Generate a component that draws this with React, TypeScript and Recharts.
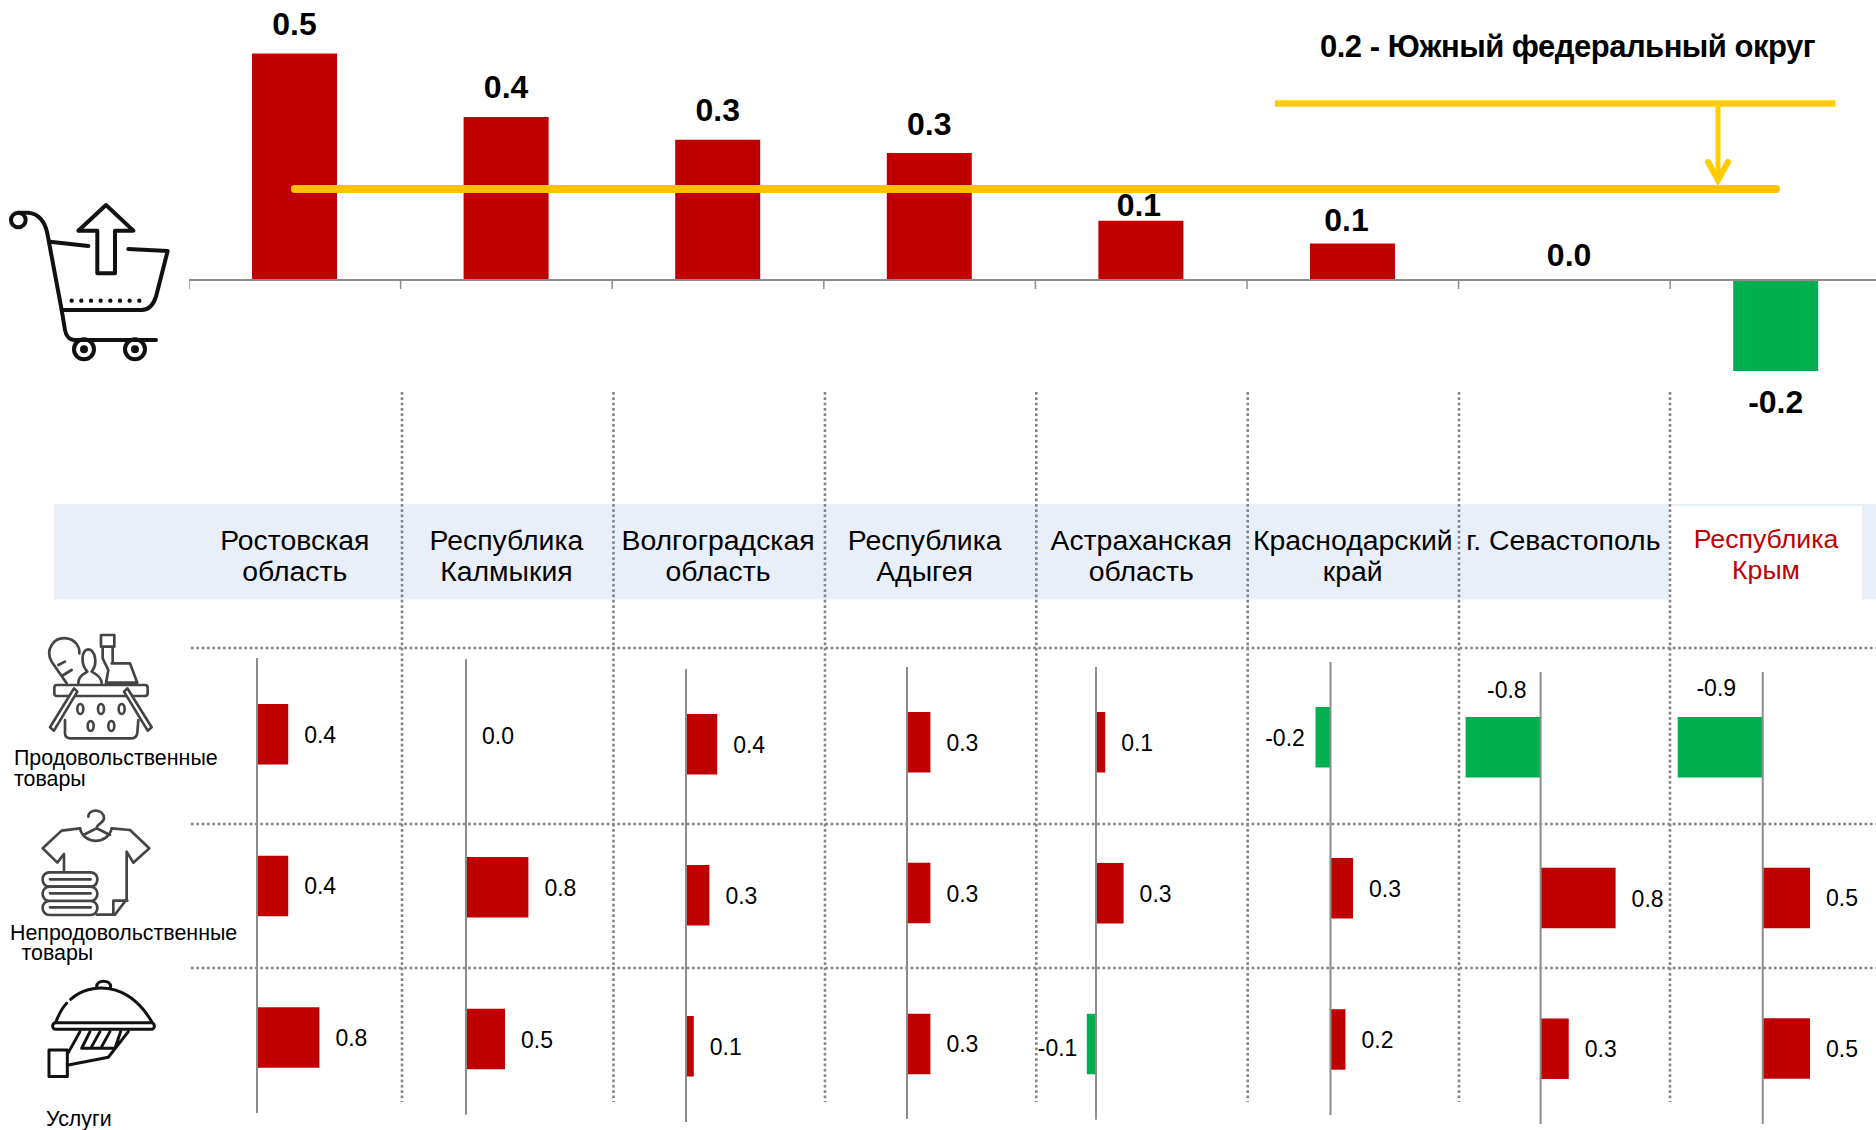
import React from "react";
import {
  BarChart, Bar, ComposedChart, Line, XAxis, YAxis, Cell,
  LabelList, ReferenceLine,
} from "recharts";

const FONT = '"Liberation Sans", Arial, sans-serif';
const RED = "#C00000";
const GREEN = "#00B050";
const AXIS_GRAY = "#8C8C8C";
const DOT_GRAY = "#858585";

// data
const regions = [
  "Ростовская область", "Республика Калмыкия", "Волгоградская область", "Республика Адыгея",
  "Астраханская область", "Краснодарский край", "г. Севастополь", "Республика Крым",
];
// the 0.0 entries are tiny, not zero: recharts drops labels of empty bars
const totalValues = [0.498, 0.358, 0.308, 0.279, 0.13, 0.08, 0.001, -0.2];
const districtAverage = 0.2;
const districtLabel = "0.2 - Южный федеральный округ";
const rowNames = ["Продовольственные товары", "Непродовольственные товары", "Услуги"];
const foodValues = [0.4, 0.001, 0.4, 0.3, 0.1, -0.2, -0.8, -0.9];
const nonFoodValues = [0.4, 0.8, 0.3, 0.3, 0.3, 0.3, 0.8, 0.5];
const serviceValues = [0.8, 0.5, 0.1, 0.3, -0.1, 0.2, 0.3, 0.5];

// layout of the top chart
const TOP_PX_PER_UNIT = 455;
const TOP_MIN = -0.35;
const TOP_MAX = 0.6;
const TOP_LEFT = 189;
const TOP_BAND = 211.6;
const TOP_ZERO_Y = 280;
const topLabelGap = [18.5, 19.3, 19.3, 18, 5, 12.3, 13.3, 42];
const topLabelDx = [0, 0, 0, 0, -2, -6, 5, 0];

// layout of the small charts, one per region
const colAxisX = [257, 466, 686.3, 907.3, 1096, 1330, 1540.7, 1762.3];
const colTop = [658, 659.3, 669.3, 666.7, 667.3, 661.7, 671.7, 672.3];
const colBottom = [1113, 1115, 1122.3, 1119.3, 1120, 1115, 1124, 1124.3];
const colPxPerUnit = [78, 78, 78, 78, 92, 75, 93.75, 94.5];
const labelNudge: Record<string, { dx: number; dy: number }> = {
  "4-2": { dx: 0.6, dy: 3 },
  "5-0": { dx: -0.7, dy: 0 },
  "6-0": { dx: 71, dy: -57.6 },
  "7-0": { dx: 68.4, dy: -59.6 },
};
const headerDx = [0, 0, 0, -5, 0, 0, -1, -10];

const gridX = [402, 613.5, 825, 1036.3, 1247.7, 1459, 1670];
const gridY = [648, 824, 968];

const topData = regions.map((name, i) => ({ name, value: totalValues[i], avg: districtAverage }));

const BoundaryTick = ({ x, y }: { x?: number; y?: number }) => {
  const left = (x ?? 0) - TOP_BAND / 2;
  const zero = (y ?? 0) + TOP_MIN * TOP_PX_PER_UNIT;
  return <line x1={left} x2={left} y1={zero} y2={zero + 9} stroke={AXIS_GRAY} strokeWidth={1.5} />;
};

const TopLabel = (props: any) => {
  const { x, y, width, height, value, index } = props;
  const top = Math.min(y, y + height);
  const bottom = Math.max(y, y + height);
  const baseline = value < 0 ? bottom + topLabelGap[index] : top - topLabelGap[index];
  return (
    <text x={x + width / 2 + topLabelDx[index]} y={baseline} textAnchor="middle"
      fontFamily={FONT} fontWeight="bold" fontSize={32} fill="#000">
      {value.toFixed(1)}
    </text>
  );
};

function TopChart() {
  const plotHeight = (TOP_MAX - TOP_MIN) * TOP_PX_PER_UNIT;
  return (
    <div style={{ position: "absolute", left: TOP_LEFT, top: TOP_ZERO_Y - TOP_MAX * TOP_PX_PER_UNIT }}>
      {/* axis needs a height above 0 or its ticks are skipped */}
      <ComposedChart width={TOP_BAND * 8} height={plotHeight + 1} data={topData}
        margin={{ top: 0, right: 0, bottom: 0, left: 0 }}>
        <XAxis dataKey="name" height={1} axisLine={false} tickLine={false} tickSize={0} tickMargin={0}
          interval={0} tick={<BoundaryTick />} />
        <YAxis hide domain={[TOP_MIN, TOP_MAX]} />
        <Bar dataKey="value" barSize={85} isAnimationActive={false}>
          {topData.map((d) => <Cell key={d.name} fill={d.value < 0 ? GREEN : RED} />)}
          <LabelList dataKey="value" content={TopLabel} />
        </Bar>
        <ReferenceLine y={0} stroke={AXIS_GRAY} strokeWidth={2} />
        <Line dataKey="avg" stroke="#FFC000" strokeWidth={8} strokeLinecap="round"
          dot={false} activeDot={false} isAnimationActive={false} />
      </ComposedChart>
    </div>
  );
}

function RegionChart({ col }: { col: number }) {
  const data = [foodValues, nonFoodValues, serviceValues].map((vals, r) => ({
    row: rowNames[r], value: vals[col],
  }));
  const w = colPxPerUnit[col] * 3;

  const renderLabel = (props: any) => {
    const { x, y, width, height, value, index } = props;
    const nudge = labelNudge[`${col}-${index}`] ?? { dx: 0, dy: 0 };
    const left = Math.min(x, x + width);
    const right = Math.max(x, x + width);
    const neg = value < 0;
    return (
      <text x={(neg ? left - 10 : right + 16) + nudge.dx} y={y + height / 2 + 0.5 + nudge.dy}
        textAnchor={neg ? "end" : "start"} dominantBaseline="central"
        fontFamily={FONT} fontSize={23} fill="#000">
        {value.toFixed(1)}
      </text>
    );
  };

  return (
    <div style={{ position: "absolute", left: colAxisX[col] - w / 2, top: colTop[col] }}>
      <BarChart layout="vertical" width={w} height={colBottom[col] - colTop[col]} data={data}
        margin={{ top: 0, right: 0, bottom: 0, left: 0 }}>
        <XAxis type="number" hide domain={[-1.5, 1.5]} />
        <YAxis type="category" dataKey="row" hide />
        <Bar dataKey="value" barSize={60.5} isAnimationActive={false}>
          {data.map((d) => <Cell key={d.row} fill={d.value < 0 ? GREEN : RED} />)}
          <LabelList dataKey="value" content={renderLabel} />
        </Bar>
        <ReferenceLine x={0} stroke={AXIS_GRAY} strokeWidth={2} />
      </BarChart>
    </div>
  );
}

function CartIcon() {
  return (
    <g transform="translate(0,190) scale(0.3333)" fill="none" stroke="#111" strokeWidth={12}
      strokeLinecap="round" strokeLinejoin="round">
      <circle cx={55} cy={90} r={22} />
      <path d="M55 68 L85 68 C115 70 135 95 142 130 L185 360 L195 420 C198 440 210 450 225 450 L468 450" />
      <path d="M150 155 L265 168 M385 177 L503 183 L468 320 C460 345 445 360 425 360 L185 360" />
      <path d="M318 45 L400 122 L345 122 L345 250 L292 250 L292 122 L235 122 Z" />
      <circle cx={252} cy={478} r={30} />
      <circle cx={405} cy={478} r={30} />
      <circle cx={252} cy={478} r={6} fill="#111" />
      <circle cx={405} cy={478} r={6} fill="#111" />
      <path d="M215 332 L425 332" strokeWidth={13} strokeDasharray="0 29" />
    </g>
  );
}

function BasketIcon() {
  return (
    <g transform="translate(0,620) scale(0.3333)" fill="none" stroke="#444" strokeWidth={8}
      strokeLinecap="round" strokeLinejoin="round">
      <rect x={163} y={195} width={280} height={33} rx={8} />
      <path d="M222 205 L150 322 L162 332 L232 215 Z M382 205 L455 322 L443 332 L372 215 Z" fill="#fff" />
      <path d="M195 300 L195 340 Q195 355 212 355 L395 355 Q410 355 412 338 L415 300" />
      <ellipse cx={241} cy={267} rx={9} ry={15} />
      <ellipse cx={303} cy={267} rx={9} ry={15} />
      <ellipse cx={365} cy={267} rx={9} ry={15} />
      <ellipse cx={272} cy={318} rx={9} ry={15} />
      <ellipse cx={334} cy={318} rx={9} ry={15} />
      <path d="M200 190 L155 125 C135 90 160 50 200 55 C225 58 240 80 238 100 M175 135 L195 125 M190 165 L215 150" />
      <path d="M235 190 C235 165 255 160 262 155 C240 130 245 90 265 88 C285 90 295 130 275 155 C285 160 305 170 305 190" />
      <path d="M303 45 L343 45 L343 80 L303 80 Z M308 80 L308 115 L325 150 L318 190 M338 80 L338 125 M335 130 L390 130 L412 188 L318 188" />
    </g>
  );
}

function ShirtIcon() {
  return (
    <g transform="translate(0,620) scale(0.3333)" fill="none" stroke="#444" strokeWidth={8}
      strokeLinecap="round" strokeLinejoin="round">
      <path d="M265 590 C265 565 312 565 312 595 C312 610 290 610 290 625 L250 645 M290 625 L330 645" />
      <path d="M240 625 C250 675 325 675 335 625 L390 630 L448 685 L400 728 L380 695 L380 838 L345 884 L290 884" />
      <path d="M240 625 L185 632 L128 685 L172 728 L192 702 L192 752" />
      <path d="M340 884 L340 842 L382 842" />
      <rect x={128} y={757} width={164} height={43} rx={20} fill="#fff" />
      <rect x={128} y={800} width={164} height={43} rx={20} fill="#fff" />
      <rect x={128} y={843} width={164} height={42} rx={20} fill="#fff" />
      <path d="M150 778 L272 778 M150 820 L272 820 M150 862 L272 862" />
    </g>
  );
}

function ClocheIcon() {
  return (
    <g transform="translate(0,620) scale(0.3333)" fill="none" stroke="#111" strokeWidth={9}
      strokeLinecap="round" strokeLinejoin="round">
      <path d="M168 1205 C180 1175 190 1160 200 1150 M212 1138 C270 1085 385 1085 455 1205" />
      <path d="M290 1100 C290 1078 332 1078 332 1100" />
      <rect x={158} y={1208} width={305} height={20} rx={9} />
      <rect x={147} y={1290} width={55} height={80} />
      <path d="M205 1298 L240 1235 M385 1235 L325 1312 L205 1335 M245 1285 L345 1285 L362 1235 M245 1285 L270 1235 M275 1280 L300 1235 M305 1280 L330 1235" />
    </g>
  );
}

function Backdrop() {
  return (
    <svg width={1876} height={1130} style={{ position: "absolute", left: 0, top: 0 }}>
      <rect x={54} y={504} width={1822} height={95.5} fill="#E9EFF9" />
      <rect x={1669} y={506} width={193} height={94} fill="#fff" />
      {gridX.map((x) => (
        <line key={x} x1={x} x2={x} y1={392} y2={1102} stroke={DOT_GRAY} strokeWidth={2.6} strokeDasharray="2.7 2.63" />
      ))}
      {gridY.map((y) => (
        <line key={y} x1={191} x2={1876} y1={y} y2={y} stroke={DOT_GRAY} strokeWidth={2.6} strokeDasharray="2.7 2.63" />
      ))}
      <CartIcon />
      <BasketIcon />
      <ShirtIcon />
      <ClocheIcon />
    </svg>
  );
}

function Overlay() {
  const headerCenters = regions.map((_, i) => TOP_LEFT + TOP_BAND * (i + 0.5) + headerDx[i]);
  return (
    <svg width={1876} height={1130} style={{ position: "absolute", left: 0, top: 0 }} fontFamily={FONT}>
      <text x={1320} y={57} fontSize={31} fontWeight="bold" fill="#000" letterSpacing={-0.5}>{districtLabel}</text>
      <line x1={1275} x2={1835.5} y1={103.5} y2={103.5} stroke="#FFCC00" strokeWidth={6.5} />
      <line x1={1718} x2={1718} y1={106} y2={180} stroke="#FFCC00" strokeWidth={5} />
      <path d="M1708 162 L1718 180 L1728 162" fill="none" stroke="#FFCC00" strokeWidth={6}
        strokeLinecap="round" strokeLinejoin="miter" />
      {regions.map((name, i) => {
        const isCrimea = i === 7;
        const parts = name.startsWith("г.") ? [name] : name.split(" ");
        return parts.map((p, k) => (
          <text key={p} x={headerCenters[i]} y={(isCrimea ? 548 : 550) + k * 31}
            textAnchor="middle" fontSize={isCrimea ? 26.7 : 28.4} fill={isCrimea ? RED : "#000"}>
            {p}
          </text>
        ));
      })}
      <g fontSize={21.4} fill="#000">
        <text x={14} y={765}>Продовольственные</text>
        <text x={14} y={786}>товары</text>
        <text x={10} y={940}>Непродовольственные</text>
        <text x={21.5} y={960}>товары</text>
        <text x={46} y={1125.5}>{rowNames[2]}</text>
      </g>
    </svg>
  );
}

export default function App() {
  return (
    <div style={{ position: "absolute", left: 0, top: 0, width: 1876, height: 1130, overflow: "hidden", background: "#fff" }}>
      <Backdrop />
      <TopChart />
      {regions.map((name, col) => <RegionChart key={name} col={col} />)}
      <Overlay />
    </div>
  );
}
